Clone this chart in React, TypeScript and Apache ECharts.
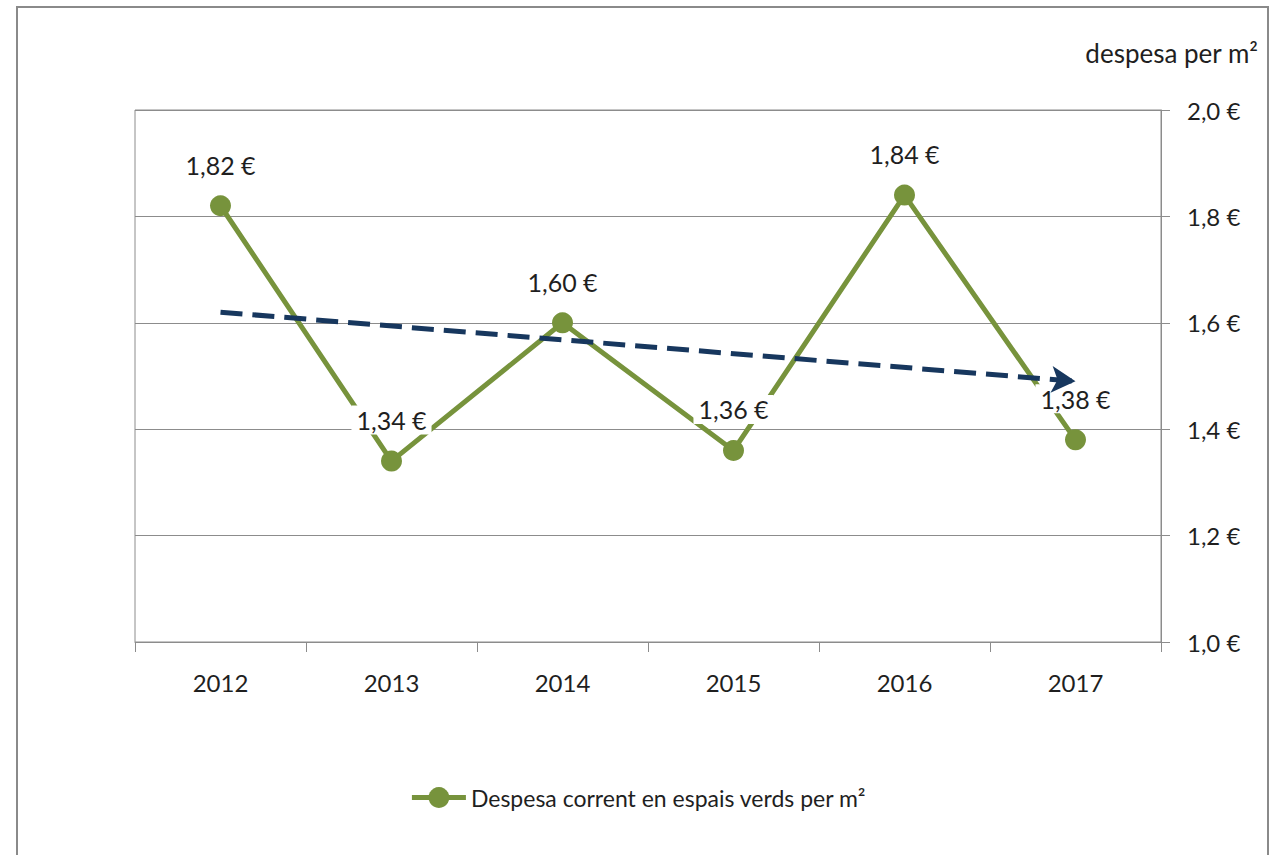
import React, { useEffect, useRef } from "react";
import * as echarts from "echarts";

const categories = ["2012", "2013", "2014", "2015", "2016", "2017"];
const spendValues = [1.82, 1.34, 1.6, 1.36, 1.84, 1.38];
const trendValues = [1.62, 1.49];
const yTicks = { min: 1.0, max: 2.0, interval: 0.2 };
const seriesName = "Despesa corrent en espais verds per m²";
const axisTitle = "despesa per m²";

const FONT = "Lato";
const TEXT = "#1f1f1f";
const GRID = "#8c8c8c";
const GREEN = "#77933C";
const NAVY = "#17375E";

const fmtLabel = (v: number) => v.toFixed(2).replace(".", ",") + " €";
const fmtAxis = (v: number) => v.toFixed(1).replace(".", ",") + " €";

export default function App() {
  const ref = useRef<HTMLDivElement>(null);
  useEffect(() => {
    if (!ref.current) return;
    const chart = echarts.init(ref.current, undefined, { renderer: "svg" });
    chart.setOption({
      animation: false,
      backgroundColor: "#ffffff",
      textStyle: { fontFamily: FONT, color: TEXT },
      grid: {
        left: 135,
        right: 115,
        top: 110,
        bottom: 213,
        show: true,
        borderColor: GRID,
        borderWidth: 1,
      },
      graphic: [
        {
          type: "rect",
          shape: { x: 17, y: 7, width: 1251, height: 900 },
          style: { fill: "none", stroke: "#8a8a8a", lineWidth: 2 },
          silent: true,
        },
        {
          type: "text",
          x: 1258,
          y: 53,
          style: {
            text: axisTitle,
            fontFamily: FONT,
            fontSize: 26,
            fill: TEXT,
            align: "right",
            verticalAlign: "middle",
          },
        },
      ],
      legend: {
        show: true,
        data: [seriesName],
        left: "center",
        top: 781,
        itemWidth: 54,
        itemHeight: 26,
        itemGap: 10,
        lineStyle: { width: 5 },
        textStyle: { fontFamily: FONT, fontSize: 23, color: TEXT },
      },
      xAxis: {
        type: "category",
        data: categories,
        boundaryGap: true,
        axisLine: { show: true, lineStyle: { color: GRID, width: 1 } },
        axisTick: { show: true, alignWithLabel: false, length: 10, lineStyle: { color: GRID } },
        axisLabel: { fontFamily: FONT, fontSize: 24, color: TEXT, margin: 28 },
        splitLine: { show: false },
      },
      yAxis: {
        type: "value",
        position: "right",
        min: yTicks.min,
        max: yTicks.max,
        interval: yTicks.interval,
        axisLine: { show: true, lineStyle: { color: GRID, width: 1 } },
        axisTick: { show: true, inside: false, length: 9, lineStyle: { color: GRID } },
        axisLabel: {
          fontFamily: FONT,
          fontSize: 24,
          color: TEXT,
          margin: 26,
          formatter: (v: number) => fmtAxis(v),
        },
        splitLine: { show: true, lineStyle: { color: GRID, width: 1 } },
      },
      series: [
        {
          name: seriesName,
          type: "line",
          data: spendValues,
          symbol: "circle",
          symbolSize: 21,
          itemStyle: { color: GREEN },
          lineStyle: { color: GREEN, width: 5 },
          label: {
            show: true,
            position: "top",
            distance: 16,
            fontFamily: FONT,
            fontSize: 25,
            color: TEXT,
            backgroundColor: "#ffffff",
            padding: [2, 5],
            formatter: (p: any) => fmtLabel(p.value),
          },
          markLine: {
            silent: true,
            symbol: ["none", "arrow"],
            symbolSize: [20, 24],
            label: { show: false },
            lineStyle: { color: NAVY, width: 5, type: [22, 10] },
            data: [
              [
                { coord: [categories[0], trendValues[0]] },
                { coord: [categories[categories.length - 1], trendValues[1]] },
              ],
            ],
          },
        },
      ],
    });
    return () => chart.dispose();
  }, []);
  return (
    <div
      ref={ref}
      style={{ position: "fixed", left: 0, top: 0, width: 1276, height: 855 }}
    />
  );
}
